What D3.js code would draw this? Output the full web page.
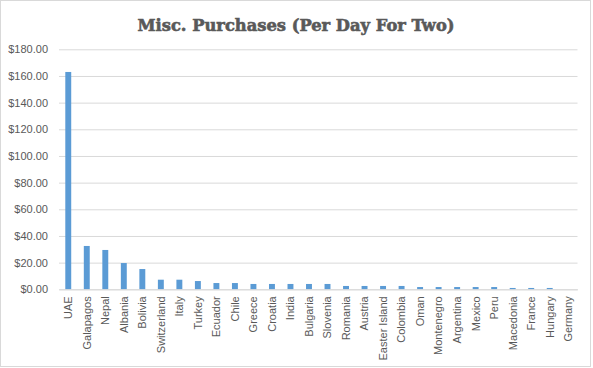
<!DOCTYPE html>
<html><head><meta charset="utf-8">
<script src="https://cdn.jsdelivr.net/npm/d3@7"></script>
<style>body{margin:0;background:#fff}svg{display:block}</style>
</head><body>
<script>
const categories = ["UAE","Galapagos","Nepal","Albania","Bolivia","Switzerland","Italy","Turkey","Ecuador","Chile","Greece","Croatia","India","Bulgaria","Slovenia","Romania","Austria","Easter Island","Colombia","Oman","Montenegro","Argentina","Mexico","Peru","Macedonia","France","Hungary","Germany"];
const values = [163,32.5,29.5,19.7,15.2,7.2,7.2,6.2,4.7,4.7,4.0,4.0,4.0,4.0,4.0,2.5,2.5,2.5,2.5,1.7,1.7,1.7,1.7,1.7,1.0,1.0,1.0,0];
const yTicks = [0,20,40,60,80,100,120,140,160,180];
const title = "Misc. Purchases (Per Day For Two)";

(function(){
const W = 593, H = 368;
const svg = d3.select("body").append("svg").attr("width", W).attr("height", H);
svg.append("rect").attr("x",0.5).attr("y",0.5).attr("width",590).attr("height",366)
  .attr("fill","#fff").attr("stroke","#d9d9d9");

const pLeft = 59, pRight = 577.5, pTop = 49.3, pBottom = 289.3;
const x = d3.scaleBand().domain(categories).range([pLeft, pRight]).paddingInner(0.68).paddingOuter(0.34);
const y = d3.scaleLinear().domain([0,180]).range([pBottom, pTop]);

const t = svg.append("text").attr("x", 296).attr("y", 30.5).attr("text-anchor","middle")
  .attr("font-family","DejaVu Serif").attr("font-weight","bold").attr("font-size",16.5)
  .attr("fill","#595959").attr("stroke","#595959").attr("stroke-width",0.6).text(title);
t.attr("textLength", 317).attr("lengthAdjust","spacingAndGlyphs");

const yAxis = d3.axisLeft(y).tickValues(yTicks).tickSize(-(pRight-pLeft)).tickFormat(d => "$" + d3.format(",.2f")(d));
const ga = svg.append("g").attr("transform", `translate(${pLeft},0)`).call(yAxis);
ga.select(".domain").remove();
ga.selectAll(".tick line").attr("stroke","#d9d9d9").attr("stroke-width",1);
ga.selectAll(".tick text").attr("x",-11).attr("fill","#595959")
  .attr("font-family","Liberation Sans, Arial, sans-serif").attr("font-size",11);

svg.append("g").selectAll("rect").data(values).join("rect")
  .attr("x",(d,i)=>x(categories[i])).attr("width",x.bandwidth())
  .attr("y",d=>y(d)).attr("height",d=>y(0)-y(d)).attr("fill","#5b9bd5");

const xAxis = d3.axisBottom(x).tickSize(0);
const gx = svg.append("g").attr("transform", `translate(0,${pBottom})`).call(xAxis);
gx.select(".domain").attr("stroke","#d9d9d9");
gx.selectAll(".tick text").attr("fill","#595959")
  .attr("font-family","Liberation Sans, Arial, sans-serif").attr("font-size",11)
  .attr("transform","rotate(-90)").attr("text-anchor","end")
  .attr("x",-7).attr("y",0).attr("dy","0.35em");
})();
</script>
</body></html>
